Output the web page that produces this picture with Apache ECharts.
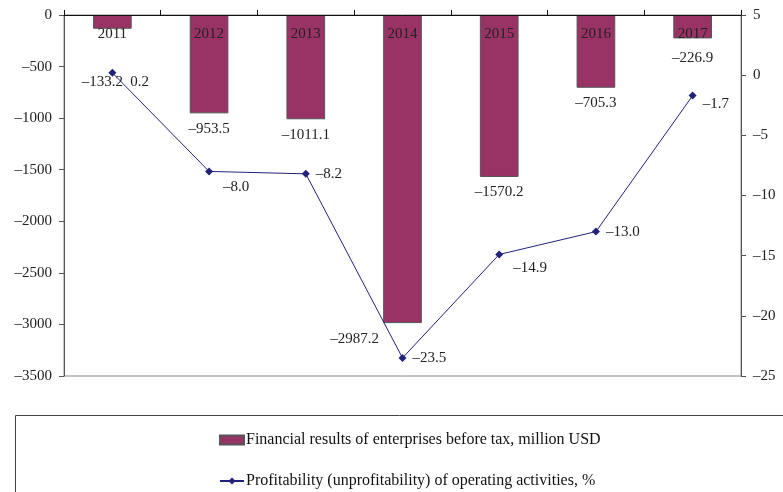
<!DOCTYPE html>
<html><head><meta charset="utf-8">
<script src="https://cdn.jsdelivr.net/npm/echarts@6/dist/echarts.min.js"></script>
<style>html,body{margin:0;padding:0;background:#fff}#c{width:783px;height:492px}</style>
</head><body><div id="c"></div>
<script>
const years = ['2011','2012','2013','2014','2015','2016','2017'];
const financialResults = [-133.2, -953.5, -1011.1, -2987.2, -1570.2, -705.3, -226.9];
const profitability = [0.2, -8.0, -8.2, -23.5, -14.9, -13.0, -1.7];
const leftTicks = {min: -3500, max: 0, interval: 500};
const rightTicks = {min: -25, max: 5, interval: 5};
const seriesNames = ['Financial results of enterprises before tax, million USD', 'Profitability (unprofitability) of operating activities, %'];

const dash = v => String(v).replace('-', '\u2013');
const fmt1 = v => dash(v.toFixed(1));
const FONT = 'Liberation Serif';

const barLabelOffsets = [[-10, 38], [0, 0], [0, 0], [-48, 0], [0, 0], [0, 0], [0, 4]];
const lineLabelOffsets = [[8, 9], [4, 16], [0, 0], [0, 0], [4, 14], [0, 0], [0, 8]];

const legendCommon = {
  left: 214, itemWidth: 24, itemHeight: 9, itemGap: 4,
  textStyle: {fontFamily: FONT, fontSize: 16, color: '#111', padding: [0, 0, 0, -3]}
};

const chart = echarts.init(document.getElementById('c'));
chart.setOption({
  animation: false,
  textStyle: {fontFamily: FONT},
  grid: {left: 64, right: 42, top: 15, bottom: 116, show: true, borderColor: '#888', borderWidth: 1},
  graphic: [{type: 'rect', shape: {x: 15.5, y: 415.5, width: 800, height: 100}, style: {fill: 'none', stroke: '#444', lineWidth: 1}}],
  legend: [
    Object.assign({top: 427, data: [{name: seriesNames[0], icon: 'rect'}]}, legendCommon),
    Object.assign({top: 468, data: [{name: seriesNames[1]}]}, legendCommon)
  ],
  xAxis: {
    type: 'category', data: years, position: 'top', z: 10,
    axisLine: {lineStyle: {color: '#111', width: 1}},
    axisTick: {show: true, inside: false, length: 5, lineStyle: {color: '#111'}},
    axisLabel: {inside: true, margin: 12, fontFamily: FONT, fontSize: 15, color: '#222'}
  },
  yAxis: [{
    type: 'value', min: leftTicks.min, max: leftTicks.max, interval: leftTicks.interval,
    position: 'left',
    axisLine: {show: true, lineStyle: {color: '#555'}},
    axisTick: {show: true, length: 5, lineStyle: {color: '#555'}},
    splitLine: {show: false},
    axisLabel: {formatter: v => dash(v), fontFamily: FONT, fontSize: 15, color: '#222', margin: 12}
  }, {
    type: 'value', min: rightTicks.min, max: rightTicks.max, interval: rightTicks.interval,
    position: 'right',
    axisLine: {show: true, lineStyle: {color: '#555'}},
    axisTick: {show: true, length: 5, lineStyle: {color: '#555'}},
    splitLine: {show: false},
    axisLabel: {formatter: v => dash(v), fontFamily: FONT, fontSize: 15, color: '#222', margin: 12}
  }],
  series: [{
    name: seriesNames[0], type: 'bar', yAxisIndex: 0, barWidth: '40%',
    itemStyle: {color: '#993366', borderColor: '#555', borderWidth: 1},
    data: financialResults.map((v, i) => ({value: v, label: {offset: barLabelOffsets[i]}})),
    label: {show: true, position: 'bottom', distance: 8, formatter: p => fmt1(p.value), fontFamily: FONT, fontSize: 15, color: '#222'}
  }, {
    name: seriesNames[1], type: 'line', yAxisIndex: 1,
    symbol: 'diamond', symbolSize: 8,
    lineStyle: {color: '#22227a', width: 1},
    itemStyle: {color: '#22227a'},
    data: profitability.map((v, i) => ({value: v, label: {offset: lineLabelOffsets[i]}})),
    label: {show: true, position: 'right', distance: 6, formatter: p => fmt1(p.value), fontFamily: FONT, fontSize: 15, color: '#222'}
  }]
});
</script></body></html>
